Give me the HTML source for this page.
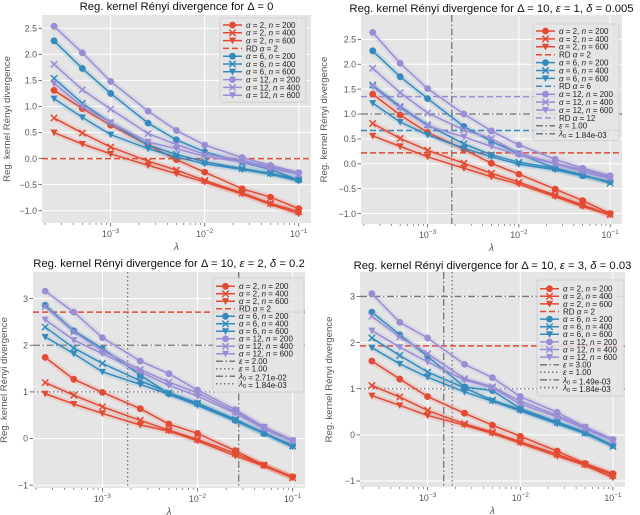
<!DOCTYPE html>
<html><head><meta charset="utf-8"><style>
html,body{margin:0;padding:0;background:#fff;}
svg{display:block;font-family:"Liberation Sans","DejaVu Sans",sans-serif;}
</style></head><body>
<svg id="fig" width="640" height="515" viewBox="0 0 640 515" xmlns="http://www.w3.org/2000/svg"></svg>
<script>
const lambdas = [2.5e-4,5e-4,1e-3,2.5e-3,5e-3,1e-2,2.5e-2,5e-2,1e-1];
const xTickExps = [-3,-2,-1];
// Panel 1: Delta=0
const p1_a2_n200 = [1.31,0.96,0.64,0.26,-0.02,-0.26,-0.58,-0.74,-0.96];
const p1_a2_n400 = [0.78,0.49,0.22,-0.05,-0.22,-0.42,-0.66,-0.86,-1.02];
const p1_a2_n600 = [0.50,0.28,0.09,-0.13,-0.29,-0.45,-0.68,-0.88,-1.06];
const p1_a6_n200 = [2.26,1.73,1.25,0.68,0.36,0.13,-0.07,-0.21,-0.41];
const p1_a6_n400 = [1.54,1.06,0.69,0.26,0.08,-0.06,-0.19,-0.28,-0.40];
const p1_a6_n600 = [1.15,0.79,0.46,0.19,0.03,-0.10,-0.21,-0.30,-0.43];
const p1_a12_n200 = [2.54,2.03,1.48,0.91,0.54,0.26,0.02,-0.13,-0.27];
const p1_a12_n400 = [1.81,1.32,0.95,0.48,0.27,0.08,-0.03,-0.16,-0.30];
const p1_a12_n600 = [1.44,1.00,0.69,0.32,0.19,0.04,-0.06,-0.19,-0.30];
const p1_rd = [0.0];
// Panel 2
const p2_a2_n200 = [1.40,0.98,0.63,0.29,0.01,-0.21,-0.51,-0.74,-1.00];
const p2_a2_n400 = [0.81,0.51,0.27,0.01,-0.19,-0.37,-0.63,-0.83,-1.02];
const p2_a2_n600 = [0.56,0.35,0.14,-0.09,-0.26,-0.41,-0.66,-0.86,-1.03];
const p2_a6_n200 = [2.27,1.75,1.31,0.75,0.45,0.20,-0.09,-0.24,-0.36];
const p2_a6_n400 = [1.58,1.15,0.78,0.40,0.18,0.03,-0.09,-0.22,-0.39];
const p2_a6_n600 = [1.22,0.84,0.58,0.31,0.14,-0.01,-0.12,-0.24,-0.36];
const p2_a12_n200 = [2.64,2.02,1.51,1.00,0.66,0.38,0.09,-0.09,-0.24];
const p2_a12_n400 = [1.92,1.43,1.02,0.68,0.51,0.21,0.01,-0.12,-0.27];
const p2_a12_n600 = [1.55,1.12,0.76,0.54,0.35,0.18,0.00,-0.16,-0.29];
const p2_rd = [0.22,0.67,1.35];
const p2_eps = [1.0];
const p2_lam0 = [1.84e-3];
// Panel 3
const p3_a2_n200 = [1.74,1.27,0.99,0.64,0.31,0.11,-0.26,-0.57,-0.82];
const p3_a2_n400 = [1.20,0.93,0.68,0.39,0.18,-0.02,-0.32,-0.57,-0.84];
const p3_a2_n600 = [0.96,0.74,0.54,0.29,0.16,-0.05,-0.37,-0.59,-0.84];
const p3_a6_n200 = [2.86,2.31,1.93,1.36,0.96,0.75,0.39,0.11,-0.14];
const p3_a6_n400 = [2.39,1.94,1.61,1.24,0.98,0.76,0.41,0.12,-0.16];
const p3_a6_n600 = [2.18,1.82,1.43,1.16,0.95,0.71,0.38,0.11,-0.18];
const p3_a12_n200 = [3.16,2.71,2.16,1.66,1.39,1.04,0.62,0.25,-0.04];
const p3_a12_n400 = [2.83,2.29,1.88,1.48,1.21,0.98,0.57,0.24,-0.05];
const p3_a12_n600 = [2.55,2.11,1.82,1.43,1.14,0.91,0.54,0.21,-0.06];
const p3_rd = [2.71];
const p3_eps = [2.0,1.0];
const p3_lam0 = [2.71e-2,1.84e-3];
// Panel 4
const p4_a2_n200 = [1.60,1.21,0.83,0.47,0.21,-0.03,-0.35,-0.62,-0.84];
const p4_a2_n400 = [1.07,0.82,0.53,0.24,0.06,-0.15,-0.42,-0.64,-0.88];
const p4_a2_n600 = [0.85,0.64,0.42,0.21,0.03,-0.18,-0.46,-0.66,-0.93];
const p4_a6_n200 = [2.66,2.17,1.70,1.04,0.96,0.57,0.28,0.06,-0.23];
const p4_a6_n400 = [2.10,1.72,1.36,1.02,0.75,0.55,0.27,0.04,-0.25];
const p4_a6_n600 = [1.89,1.54,1.25,0.93,0.73,0.52,0.24,0.03,-0.23];
const p4_a12_n200 = [3.06,2.44,2.10,1.53,1.24,0.83,0.49,0.17,-0.10];
const p4_a12_n400 = [2.57,2.12,1.76,1.22,1.04,0.73,0.42,0.16,-0.13];
const p4_a12_n600 = [2.26,1.90,1.58,1.19,1.02,0.67,0.39,0.13,-0.12];
const p4_rd = [1.93];
const p4_eps = [3.0,1.0];
const p4_lam0 = [1.49e-3,1.84e-3];

const RED="#E24A33", BLUE="#348ABD", PUR="#988ED5", GRAY="#777777";
const NS = "http://www.w3.org/2000/svg";
const fig = document.getElementById('fig');
function mk(tag, attrs, parent){
  const e=document.createElementNS(NS,tag);
  for(const k in attrs) e.setAttribute(k,attrs[k]);
  (parent||fig).appendChild(e); return e;
}
function mathLabel(el, parts){
  parts.forEach(p=>{const t=mk('tspan',{},el); t.textContent=p[0]; if(p[1]) t.setAttribute('font-style','italic');});
}
function drawMarker(g, type, x, y, color){
  let m;
  if(type==='o'){ m=mk('circle',{cx:x,cy:y,r:3.4,fill:color},g); }
  else if(type==='x'){ m=mk('path',{d:`M${x-3.2},${y-3.2}L${x+3.2},${y+3.2}M${x-3.2},${y+3.2}L${x+3.2},${y-3.2}`,stroke:color,'stroke-width':1.5,fill:'none'},g); }
  else { m=mk('path',{d:`M${x-3.6},${y-3}L${x+3.6},${y-3}L${x},${y+3.6}Z`,fill:color},g); }
  return m;
}
const dashes = {dash:'6,3', dashdot:'7,2.5,1.5,2.5', dot:'1.5,2.5'};

const panels = [
 {id:'p1', box:[42,15,311,223], ymin:-1.236, ymax:2.755, yticks:[-1,-0.5,0,0.5,1,1.5,2,2.5], ylab:['−1.0','−0.5','0.0','0.5','1.0','1.5','2.0','2.5'],
  title:[['Reg. kernel Rényi divergence for ',0],['Δ',0],[' = 0',0]], titleY:10, ylabX:7,
  series:[p1_a2_n200,p1_a2_n400,p1_a2_n600,p1_a6_n200,p1_a6_n400,p1_a6_n600,p1_a12_n200,p1_a12_n400,p1_a12_n600],
  rd:p1_rd, rdColors:[RED], eps:[], lam0:[], legend:{x:220,y:18,w:86,row:7.8,first:25}},
 {id:'p2', box:[361,15,622,224], ymin:-1.21, ymax:2.99, yticks:[-1,-0.5,0,0.5,1,1.5,2,2.5], ylab:['−1.0','−0.5','0.0','0.5','1.0','1.5','2.0','2.5'],
  title:[['Reg. kernel Rényi divergence for ',0],['Δ = 10, ',0],['ε',1],[' = 1, ',0],['δ',1],[' = 0.005',0]], titleY:12, ylabX:324,
  series:[p2_a2_n200,p2_a2_n400,p2_a2_n600,p2_a6_n200,p2_a6_n400,p2_a6_n600,p2_a12_n200,p2_a12_n400,p2_a12_n600],
  rd:p2_rd, rdColors:[RED,BLUE,PUR], eps:p2_eps, epsStyle:['dashdot'], lam0:p2_lam0, lamStyle:['dashdot'], legend:{x:533,y:24,w:86,row:7.9,first:31}},
 {id:'p3', box:[33,272,305,488], ymin:-1.06, ymax:3.57, yticks:[-1,0,1,2,3], ylab:['−1','0','1','2','3'],
  title:[['Reg. kernel Rényi divergence for ',0],['Δ = 10, ',0],['ε',1],[' = 2, ',0],['δ',1],[' = 0.2',0]], titleY:267, ylabX:4,
  series:[p3_a2_n200,p3_a2_n400,p3_a2_n600,p3_a6_n200,p3_a6_n400,p3_a6_n600,p3_a12_n200,p3_a12_n400,p3_a12_n600],
  rd:p3_rd, rdColors:[RED], eps:p3_eps, epsStyle:['dashdot','dot'], lam0:p3_lam0, lamStyle:['dashdot','dot'], legend:{x:213,y:278,w:91,row:7.5,first:286.3}},
 {id:'p4', box:[360,272,625,487], ymin:-1.13, ymax:3.53, yticks:[-1,0,1,2,3], ylab:['−1','0','1','2','3'],
  title:[['Reg. kernel Rényi divergence for ',0],['Δ = 10, ',0],['ε',1],[' = 3, ',0],['δ',1],[' = 0.03',0]], titleY:269, ylabX:329,
  series:[p4_a2_n200,p4_a2_n400,p4_a2_n600,p4_a6_n200,p4_a6_n400,p4_a6_n600,p4_a12_n200,p4_a12_n400,p4_a12_n600],
  rd:p4_rd, rdColors:[RED], eps:p4_eps, epsStyle:['dashdot','dot'], lam0:p4_lam0, lamStyle:['dashdot','dot'], legend:{x:537,y:280,w:87,row:7.6,first:288.7}}
];
const seriesColors=[RED,RED,RED,BLUE,BLUE,BLUE,PUR,PUR,PUR];
const seriesMarkers=['o','x','v','o','x','v','o','x','v'];
const seriesAlpha=[2,2,2,6,6,6,12,12,12];
const seriesN=[200,400,600,200,400,600,200,400,600];
const XMIN=-3.73, XMAX=-0.87;

panels.forEach(P=>{
  const [x0,y0,x1,y1]=P.box;
  const xs=v=>x0+(Math.log10(v)-XMIN)/(XMAX-XMIN)*(x1-x0);
  const xe=e=>x0+(e-XMIN)/(XMAX-XMIN)*(x1-x0);
  const ys=v=>y1-(v-P.ymin)/(P.ymax-P.ymin)*(y1-y0);
  const g=mk('g',{});
  
  
  const bg=mk('rect',{x:x0,y:y0,width:x1-x0,height:y1-y0,fill:'#E5E5E5'},g);
  
  
  P.yticks.forEach((t,i)=>{
    const y=ys(t);
    mk('line',{x1:x0,x2:x1,y1:y,y2:y,stroke:'#fff','stroke-width':1},g);
    mk('line',{x1:x0-3.5,x2:x0,y1:y,y2:y,stroke:'#555','stroke-width':0.8},g);
    const tl=mk('text',{x:x0-5,y:y+3.2,'text-anchor':'end','font-size':8.8,fill:'#555'},g);
    tl.textContent=P.ylab[i];
    
    
  });
  xTickExps.forEach(e=>{
    const x=xe(e);
    mk('line',{x1:x,x2:x,y1:y0,y2:y1,stroke:'#fff','stroke-width':1},g);
    mk('line',{x1:x,x2:x,y1:y1,y2:y1+3.5,stroke:'#555','stroke-width':0.8},g);
    const tl=mk('text',{x:x,y:y1+14,'text-anchor':'middle','font-size':8.8,fill:'#555'},g);
    
    
    const a=mk('tspan',{},tl); a.textContent='10';
    const b=mk('tspan',{dy:-3.8,'font-size':6.5},tl); b.textContent='−'+(-e);
  });
  for(let d=-4; d<=-1; d++){ for(let k=2;k<=9;k++){ const lv=d+Math.log10(k); if(lv>XMIN&&lv<XMAX){const x=xe(lv); mk('line',{x1:x,x2:x,y1:y1,y2:y1+2,stroke:'#555','stroke-width':0.6},g);} } }
  P.rd.forEach((v,i)=>{ const l=mk('line',{x1:x0,x2:x1,y1:ys(v),y2:ys(v),stroke:P.rdColors[i],'stroke-width':1.5,'stroke-dasharray':dashes.dash},g);
      });
  P.eps.forEach((v,i)=>{ const l=mk('line',{x1:x0,x2:x1,y1:ys(v),y2:ys(v),stroke:GRAY,'stroke-width':1.3,'stroke-dasharray':dashes[P.epsStyle[i]]},g);
      });
  P.lam0.forEach((v,i)=>{ const l=mk('line',{x1:xs(v),x2:xs(v),y1:y0,y2:y1,stroke:GRAY,'stroke-width':1.3,'stroke-dasharray':dashes[P.lamStyle[i]]},g);
      });
  P.series.forEach((arr,si)=>{
    const c=seriesColors[si];
    const sg=mk('g',{},g);
    
    
    const pts=arr.map((v,i)=>[xs(lambdas[i]),ys(v)]);
    mk('polyline',{points:pts.map(p=>p.join(',')).join(' '),fill:'none',stroke:c,'stroke-width':6,'stroke-opacity':0.15},sg);
    mk('polyline',{points:pts.map(p=>p.join(',')).join(' '),fill:'none',stroke:c,'stroke-width':1.5},sg);
    pts.forEach(p=>{ const m=drawMarker(sg,seriesMarkers[si],p[0],p[1],c);
        });
  });
  const items=[];
  const addS=i=>items.push({type:'s',i});
  const addL=(color,dash,parts)=>items.push({type:'l',color,dash,parts});
  [0,1,2].forEach(addS);
  if(P.id==='p2'){
    addL(RED,'dash',[['RD ',0],['α',1],[' = 2',0]]);
    [3,4,5].forEach(addS); addL(BLUE,'dash',[['RD ',0],['α',1],[' = 6',0]]);
    [6,7,8].forEach(addS); addL(PUR,'dash',[['RD ',0],['α',1],[' = 12',0]]);
    addL(GRAY,'dashdot',[['ε',1],[' = 1.00',0]]);
    addL(GRAY,'dashdot',[['λ',1],['',0],[' = 1.84e-03',0]]);
  } else {
    addL(RED,'dash',[['RD ',0],['α',1],[' = 2',0]]);
    [3,4,5,6,7,8].forEach(addS);
    if(P.id!=='p1'){
      P.eps.forEach((v,k)=>addL(GRAY,P.epsStyle[k],[['ε',1],[' = '+v.toFixed(2),0]]));
      P.lam0.forEach((v,k)=>addL(GRAY,P.lamStyle[k],[['λ',1],['',0],[' = '+v.toExponential(2).replace(/e([+-])(\d)$/,'e$10$2'),0]]));
    }
  }
  const L=P.legend;
  const lg=mk('g',{},g);
  
  
  const h=(items.length-1)*L.row+ (L.first-L.y)*2;
  mk('rect',{x:L.x,y:L.y,width:L.w,height:h,fill:'#E5E5E5','fill-opacity':0.85,stroke:'#cccccc','stroke-width':0.8,rx:2},lg);
  items.forEach((it,k)=>{
    const cy=L.first+k*L.row;
    const hx0=L.x+3, hx1=L.x+22;
    let parts, color;
    if(it.type==='s'){
      color=seriesColors[it.i];
      mk('line',{x1:hx0,x2:hx1,y1:cy,y2:cy,stroke:color,'stroke-width':1.5},lg);
      drawMarker(lg,seriesMarkers[it.i],(hx0+hx1)/2,cy,color);
      parts=[['α',1],[' = '+seriesAlpha[it.i]+', ',0],['n',1],[' = '+seriesN[it.i],0]];
    } else {
      mk('line',{x1:hx0,x2:hx1,y1:cy,y2:cy,stroke:it.color,'stroke-width':1.5,'stroke-dasharray':dashes[it.dash]},lg);
      parts=it.parts;
    }
    const t=mk('text',{x:L.x+26,y:cy+2.9,'font-size':8,fill:'#222'},lg);
    
    
    parts.forEach(p=>{ const s=mk('tspan',{},t); s.textContent=p[0]; if(p[1]) s.setAttribute('font-style','italic'); if(p[0]==='' ){s.setAttribute('font-size',5.5);s.setAttribute('dy',1.5);s.textContent='0';} });
  });
  const tt=mk('text',{x:(x0+x1)/2,y:P.titleY,'text-anchor':'middle','font-size':11.3,fill:'#111'},g);
  
  
  mathLabel(tt,P.title);
  const yl=mk('text',{x:0,y:0,'text-anchor':'middle','font-size':9.6,fill:'#555',transform:`translate(${P.ylabX+3},${(y0+y1)/2}) rotate(-90)`},g);
  yl.textContent='Reg. kernel Rényi divergence';
  
  
  const xl=mk('text',{x:(x0+x1)/2,y:y1+27,'text-anchor':'middle','font-size':10,'font-style':'italic',fill:'#555'},g);
  xl.textContent='λ';
  
  
});
</script>
</body></html>
